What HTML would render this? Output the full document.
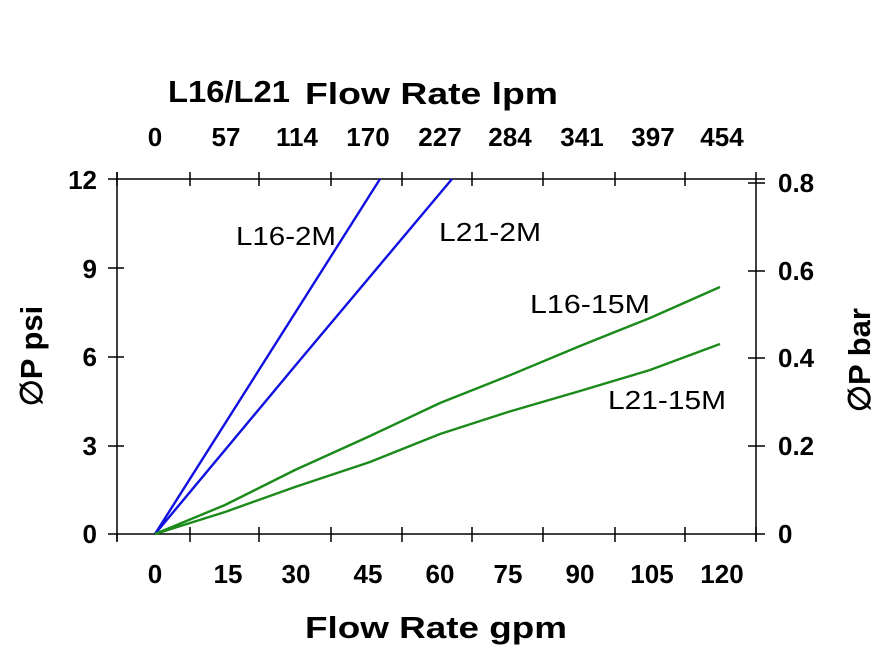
<!DOCTYPE html>
<html><head><meta charset="utf-8"><style>
html,body{margin:0;padding:0;background:#fff;}
svg{display:block;font-family:"Liberation Sans",Arial,sans-serif;}
.b{font-weight:bold;font-size:26px;}
.t{font-weight:bold;font-size:31px;}
.l{font-size:26px;}
</style></head><body>
<svg width="882" height="650" viewBox="0 0 882 650">
<rect width="882" height="650" fill="#fff"/>
<g stroke="#000" stroke-width="1.5" fill="none">
<line x1="108" y1="179" x2="765" y2="179"/>
<line x1="108" y1="534" x2="765" y2="534"/>
<line x1="117" y1="172" x2="117" y2="541"/>
<line x1="756" y1="172" x2="756" y2="541"/>
<path d="M117 172V186M190 172V186M259 172V186M331 172V186M402 172V186M472 172V186M543 172V186M615 172V186M685 172V186"/>
<path d="M117 534V542M190 527V542M259 527V542M331 527V542M402 527V542M472 527V542M543 527V542M615 527V542M685 527V542M756 527V542"/>
<path d="M108 268H124M108 357H124M108 446H124"/>
<path d="M748 183H765M748 271H765M748 358H765M748 446H765"/>
</g>
<g fill="none" stroke-width="2.4">
<polyline stroke="#1010e0" points="155,534 380,179"/>
<polyline stroke="#1010e0" points="155,534 300,360 452,179"/>
<polyline stroke="#1a8a1a" points="155,534 225,505 295,470 370,436 440,403 508,376 580,346 650,318 720,287"/>
<polyline stroke="#1a8a1a" points="155,534 225,512 295,487 370,462 440,434 508,412 580,391 650,370 720,344"/>
</g>
<g class="b" text-anchor="middle">
<text x="155" y="146">0</text><text x="226" y="146">57</text><text x="297" y="146">114</text><text x="368" y="146">170</text><text x="440" y="146">227</text><text x="510" y="146">284</text><text x="582" y="146">341</text><text x="653" y="146">397</text><text x="722" y="146">454</text>
<text x="155" y="583">0</text><text x="228" y="583">15</text><text x="296" y="583">30</text><text x="368" y="583">45</text><text x="440" y="583">60</text><text x="508" y="583">75</text><text x="580" y="583">90</text><text x="652" y="583">105</text><text x="722" y="583">120</text>
</g>
<g class="b" text-anchor="end">
<text x="97" y="189">12</text><text x="97" y="278">9</text><text x="97" y="366">6</text><text x="97" y="455">3</text><text x="97" y="543">0</text>
</g>
<g class="b">
<text x="778" y="192">0.8</text><text x="778" y="280">0.6</text><text x="778" y="367">0.4</text><text x="778" y="455">0.2</text><text x="778" y="543">0</text>
</g>
<text class="t" x="168" y="102" textLength="122" lengthAdjust="spacingAndGlyphs">L16/L21</text>
<text class="t" x="305" y="104" textLength="253" lengthAdjust="spacingAndGlyphs">Flow Rate lpm</text>
<text class="t" x="305" y="638" textLength="262" lengthAdjust="spacingAndGlyphs">Flow Rate gpm</text>
<text class="t" transform="translate(42,356) rotate(-90)" text-anchor="middle">∅P psi</text>
<text class="t" transform="translate(870,360) rotate(-90)" text-anchor="middle">∅P bar</text>
<g class="l">
<text x="236" y="245" textLength="100" lengthAdjust="spacingAndGlyphs">L16-2M</text>
<text x="439" y="241" textLength="102" lengthAdjust="spacingAndGlyphs">L21-2M</text>
<text x="530" y="313" textLength="120" lengthAdjust="spacingAndGlyphs">L16-15M</text>
<text x="608" y="409" textLength="118" lengthAdjust="spacingAndGlyphs">L21-15M</text>
</g>
</svg>
</body></html>
